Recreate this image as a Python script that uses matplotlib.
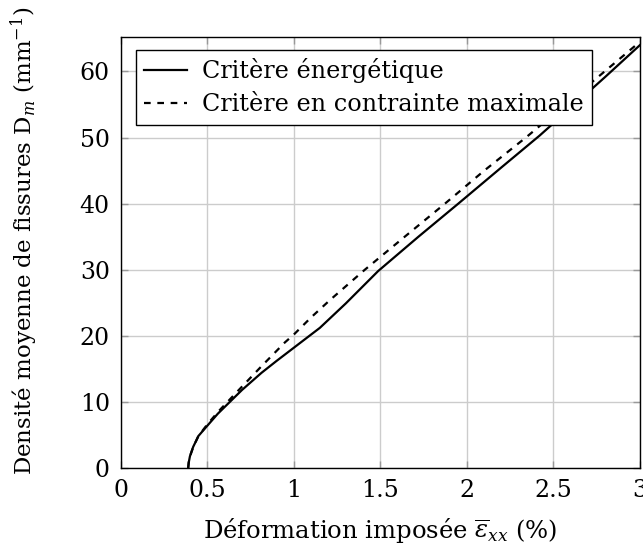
# %%

import matplotlib.pyplot as plt

# %%

# crack density vs applied strain, two fracture criteria

eps_energy = [0.389, 0.392, 0.399, 0.41, 0.418, 0.433, 0.447, 0.50, 0.56, 0.63,
              0.70, 0.813, 0.90, 1.0, 1.15, 1.3, 1.487, 1.72, 1.95, 2.2,
              2.42, 2.6, 2.8, 3.0]
dm_energy = [0.0, 0.8, 1.75, 2.6, 3.2, 4.0, 4.8, 6.4, 8.2, 10.0,
             11.8, 14.4, 16.2, 18.2, 21.2, 24.9, 29.8, 35.0, 40.0, 45.5,
             50.3, 54.5, 59.2, 64.0]

eps_stress = [0.389, 0.392, 0.40, 0.42, 0.45, 0.50, 0.562, 0.678, 0.813, 0.948,
              1.0, 1.1, 1.208, 1.41, 1.65, 1.873, 2.1, 2.345, 2.55, 2.75, 3.0]
dm_stress = [0.0, 0.8, 1.8, 3.3, 4.9, 6.6, 8.5, 11.7, 15.4, 19.0,
             20.2, 22.8, 25.4, 30.0, 35.2, 40.0, 45.0, 50.1, 54.6, 59.0, 64.5]

xticks = [0, 0.5, 1, 1.5, 2, 2.5, 3]
xticklabels = ["0", "0.5", "1", "1.5", "2", "2.5", "3"]
yticks = [0, 10, 20, 30, 40, 50, 60]

plt.rcParams["font.family"] = ["DejaVu Serif"]
plt.rcParams["mathtext.fontset"] = "dejavuserif"

fig = plt.figure(figsize=(6.43, 5.46), dpi=100)
ax = fig.add_axes([0.188, 0.143, 0.8073, 0.789])

ax.plot(eps_energy, dm_energy, color="black", lw=1.6,
        solid_joinstyle="round", label="Critère énergétique")
ax.plot(eps_stress, dm_stress, color="black", lw=1.6, dashes=(3.0, 3.0),
        dash_joinstyle="round", label="Critère en contrainte maximale")

ax.set_xlim(0, 3)
ax.set_ylim(0, 65.2)
ax.set_xticks(xticks)
ax.set_xticklabels(xticklabels)
ax.set_yticks(yticks)
ax.grid(True, color="#cccccc", lw=1.0)
ax.set_axisbelow(True)
ax.tick_params(direction="in", length=5, color="0.6", width=1.0,
               labelsize=17, top=True, right=True, pad=8)
for s in ax.spines.values():
    s.set_linewidth(1.0)

ax.set_xlabel(r"Déformation imposée $\overline{\varepsilon}_{xx}$ (%)",
              fontsize=17.5, labelpad=10)
ax.set_ylabel(r"Densité moyenne de fissures $\mathrm{D}_m$ (mm$^{-1}$)",
              fontsize=16.5)
ax.yaxis.set_label_coords(-0.155, 0.527)

leg = ax.legend(loc="upper left", bbox_to_anchor=(0.029, 0.97), fontsize=17.2,
                frameon=True, fancybox=False, framealpha=1, edgecolor="black",
                handlelength=1.8, handletextpad=0.6, borderpad=0.35,
                labelspacing=0.42, borderaxespad=0)
leg.get_frame().set_linewidth(1.0)

fig.savefig("out.png", dpi=100)
